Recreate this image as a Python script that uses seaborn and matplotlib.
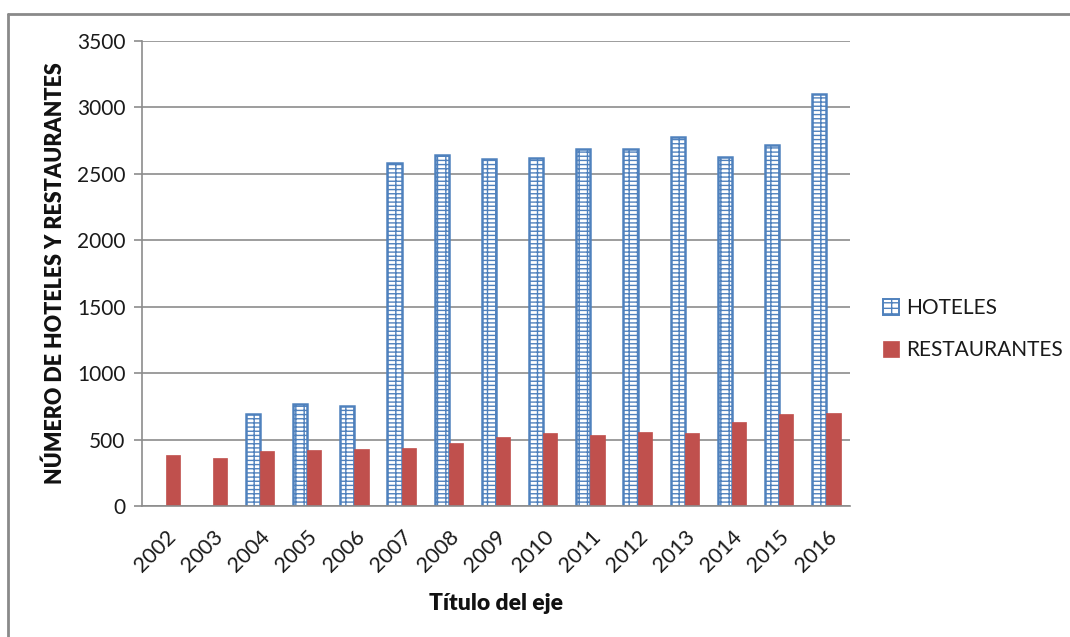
import matplotlib
matplotlib.use("Agg")
import matplotlib.pyplot as plt
import numpy as np
import pandas as pd
import seaborn as sns
from matplotlib.lines import Line2D
from matplotlib.patches import Patch

years = ["2002", "2003", "2004", "2005", "2006", "2007", "2008", "2009",
         "2010", "2011", "2012", "2013", "2014", "2015", "2016"]
hoteles = [np.nan, np.nan, 690, 770, 752, 2580, 2640, 2612, 2622, 2690,
           2690, 2777, 2627, 2715, 3098]
restaurantes = [380, 360, 412, 421, 430, 440, 474, 519, 549, 534,
                556, 549, 630, 694, 702]
series_names = ["HOTELES", "RESTAURANTES"]

blue = "#4F81BD"
red = "#C0504D"
grid_grey = "#8C8C8C"

df = pd.DataFrame({
    "year": years * 2,
    "value": hoteles + restaurantes,
    "serie": [series_names[0]] * len(years) + [series_names[1]] * len(years),
})

sns.set_theme(style="white")
plt.rcParams["font.family"] = ["Lato", "DejaVu Sans"]
plt.rcParams["hatch.linewidth"] = 1.0

fig = plt.figure(figsize=(10.7, 6.37), dpi=100)
ax = fig.add_axes([0.1327, 0.2057, 0.6617, 0.7299])

sns.barplot(data=df, x="year", y="value", hue="serie", order=years,
            hue_order=series_names, palette=[blue, red], width=0.6,
            saturation=1, ax=ax, legend=False)

# style the two series: brick-like hatched hotels, solid restaurants
hotel_bars, rest_bars = ax.containers[0], ax.containers[1]
for bar in hotel_bars:
    bar.set_facecolor("white")
    bar.set_edgecolor(blue)
    bar.set_hatch("----||")
    bar.set_linewidth(1.8)
for bar in rest_bars:
    bar.set_facecolor(red)
    bar.set_edgecolor(red)
    bar.set_linewidth(0.5)

n = len(years)
ax.set_ylim(0, 3500)
ax.set_yticks(np.arange(0, 3501, 500))
ax.set_xlim(-0.5, n - 0.5)
ax.yaxis.grid(True, color=grid_grey, linewidth=1.2)
ax.set_axisbelow(True)

for side in ["top", "right"]:
    ax.spines[side].set_visible(False)
ax.spines["left"].set_color(grid_grey)
ax.spines["bottom"].set_color(grid_grey)
ax.spines["left"].set_linewidth(1.2)
ax.spines["bottom"].set_linewidth(1.2)

ax.tick_params(axis="y", which="both", left=True, length=6, width=1.2,
               color=grid_grey, labelsize=15, labelcolor="#1A1A1A", pad=6)
ax.tick_params(axis="x", bottom=False, labelsize=15.5, labelcolor="#1A1A1A", pad=9)
for lbl in ax.get_xticklabels():
    lbl.set_rotation(45)
    lbl.set_ha("right")
    lbl.set_va("top")
    lbl.set_rotation_mode("anchor")

ax.set_xlabel("Título del eje", fontsize=16.5, fontweight="heavy", labelpad=12,
              color="#111111")
ax.set_ylabel("NÚMERO DE HOTELES Y RESTAURANTES", fontsize=15.5,
              fontweight="heavy", labelpad=8, color="#111111")

legend_handles = [
    Patch(facecolor="white", edgecolor=blue, hatch="---|", linewidth=1.4),
    Patch(facecolor=red, edgecolor=red, linewidth=0.5),
]
ax.legend(legend_handles, series_names, loc="center left",
          bbox_to_anchor=(1.02, 0.38), frameon=False, fontsize=15,
          labelspacing=1.05, handlelength=0.75, handleheight=0.75,
          handletextpad=0.35, labelcolor="#1A1A1A")

# outer chart frame (top and left edges)
fig.add_artist(Line2D([0.0075, 1.0], [0.978, 0.978], transform=fig.transFigure,
                      color="#8A8A8A", linewidth=2))
fig.add_artist(Line2D([0.0075, 0.0075], [0.0, 0.978], transform=fig.transFigure,
                      color="#8A8A8A", linewidth=2))

fig.savefig("out.png", dpi=100)
